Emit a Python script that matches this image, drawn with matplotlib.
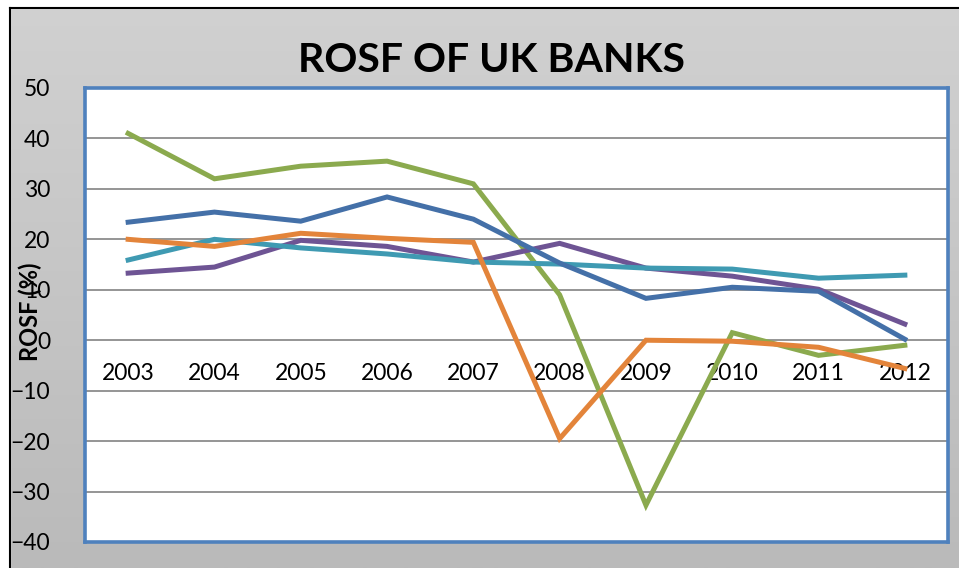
import numpy as np
import matplotlib.pyplot as plt
from matplotlib.lines import Line2D

plt.rcParams['font.family'] = ['Lato', 'DejaVu Sans']

years = ['2003', '2004', '2005', '2006', '2007', '2008', '2009', '2010', '2011', '2012']

green = [41, 32, 34.5, 35.5, 31, 9, -32.7, 1.5, -3, -1]
purple = [13.3, 14.5, 19.8, 18.6, 15.5, 19.2, 14.3, 12.7, 10.1, 3.2]
teal = [15.9, 20, 18.3, 17.1, 15.5, 15.1, 14.3, 14.1, 12.3, 12.9]
orange = [20, 18.6, 21.2, 20.2, 19.4, -19.5, 0, -0.2, -1.4, -5.6]
blue = [23.4, 25.4, 23.6, 28.4, 24, 15.3, 8.3, 10.5, 9.7, 0.2]

series = [
    (green, '#8BAA4E'),
    (purple, '#6E5494'),
    (teal, '#3F9AB2'),
    (orange, '#E3843A'),
    (blue, '#4470A8'),
]

fig = plt.figure(figsize=(9.59, 5.68), dpi=100)

# grey gradient chart background
bg = fig.add_axes([0, 0, 1, 1], zorder=-10)
grad = np.linspace(0, 1, 256).reshape(-1, 1)
bg.imshow(grad, aspect='auto', cmap=plt.matplotlib.colors.LinearSegmentedColormap.from_list(
    'g', ['#d1d1d1', '#bababa']), extent=[0, 1, 0, 1], origin='upper')
bg.set_xlim(0, 1)
bg.set_ylim(0, 1)
bg.axis('off')
# white strip + black frame at the top and left
bg.fill_between([0, 1], 1 - 8 / 568, 1, color='white')
bg.fill_between([0, 10 / 959], 0, 1, color='white')
bg.add_line(Line2D([10 / 959, 10 / 959], [0, 1 - 8 / 568], color='black', lw=1.5))
bg.add_line(Line2D([10 / 959, 1], [1 - 8 / 568, 1 - 8 / 568], color='black', lw=1.5))

ax = fig.add_axes([85 / 959, 1 - 542 / 568, 863 / 959, 454 / 568])
ax.set_facecolor('white')
x = np.arange(len(years))
for i, (vals, col) in enumerate(series):
    ax.plot(x, vals, color=col, lw=3.6, solid_joinstyle='miter', zorder=3 + i)

ax.set_xlim(-0.5, 9.5)
ax.set_ylim(-40, 50)
ax.set_yticks(range(-40, 51, 10))
ax.set_xticks([])
ax.tick_params(axis='y', length=0, labelsize=16.5, pad=25)
ax.yaxis.grid(True, color='#8c8c8c', lw=1.3)
ax.set_axisbelow(True)
for s in ax.spines.values():
    s.set_color('#4F81BD')
    s.set_linewidth(2.6)

# category labels sit just under the zero line
for xi, yr in zip(x, years):
    ax.text(xi, -4.6, yr, ha='center', va='top', fontsize=16.5, zorder=2)

fig.text(30 / 959, 1 - 312 / 568, 'ROSF (%)', rotation=90, ha='center', va='center',
         fontsize=17, fontweight='bold')
fig.text(491 / 959, 1 - 61 / 568, 'ROSF OF UK BANKS', ha='center', va='center',
         fontsize=29.5, fontweight='bold')

fig.savefig('out.png', dpi=100)
